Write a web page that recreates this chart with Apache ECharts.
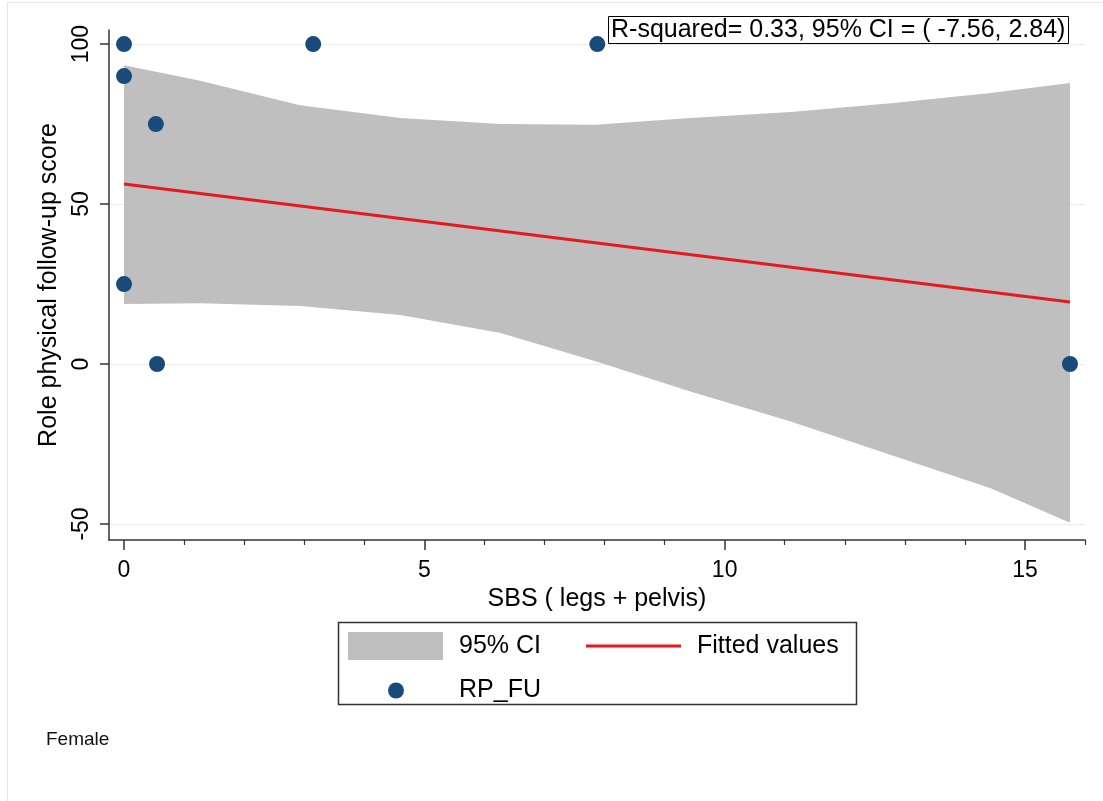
<!DOCTYPE html>
<html>
<head>
<meta charset="utf-8">
<script src="https://cdn.jsdelivr.net/npm/echarts@6/dist/echarts.min.js"></script>
<style>
  html, body { margin: 0; padding: 0; background: #fff; }
  #chart { width: 1103px; height: 801px; }
</style>
</head>
<body>
<div id="chart"></div>
<script>
// observed points (RP_FU vs SBS)
const pointX = [0, 0, 0.53, 0, 0.55, 3.15, 7.88, 15.75];
const pointY = [100, 90, 75, 25, 0, 100, 100, 0];

// fitted line end points
const fitX = [0, 15.75];
const fitY = [56.25, 19.4];

// 95% CI band
const bandX = [0, 1.27, 2.93, 4.6, 6.27, 7.85, 9.43, 11.1, 12.77, 14.43, 15.75];
const bandUpper = [93.4, 88.5, 80.9, 76.9, 75, 74.8, 76.9, 78.8, 81.5, 84.7, 87.8];
const bandLower = [18.75, 19, 18.1, 15.3, 9.7, 0.9, -8.6, -18, -28.4, -38.8, -49.6];

// ticks
const xMajorTicks = [0, 5, 10, 15];
const xMinorTicks = [1, 2, 3, 4, 6, 7, 8, 9, 11, 12, 13, 14, 16];
const yTicks = [-50, 0, 50, 100];

const FONT = 'Liberation Sans, Arial, Helvetica, sans-serif';
const chart = echarts.init(document.getElementById('chart'));

const option = {
  backgroundColor: '#fff',
  animation: false,
  textStyle: { fontFamily: FONT },
  title: {
    text: 'R-squared= 0.33, 95% CI = ( -7.56, 2.84)',
    left: 608,
    top: 16,
    padding: [2, 3, 1, 3],
    borderColor: '#000',
    borderWidth: 1,
    backgroundColor: '#fff',
    textStyle: { fontFamily: FONT, fontSize: 25, fontWeight: 'normal', color: '#000' }
  },
  grid: { left: 109, right: 18, top: 30, bottom: 261 },
  xAxis: [
    {
      type: 'value', min: -0.25, max: 16,
      position: 'bottom',
      name: 'SBS ( legs + pelvis)',
      nameLocation: 'middle',
      nameGap: 46,
      nameTextStyle: { fontFamily: FONT, fontSize: 25, color: '#000' },
      axisLine: { show: true, onZero: false, lineStyle: { color: '#333', width: 1.5 } },
      axisTick: { show: true, customValues: xMajorTicks, length: 10, lineStyle: { color: '#333', width: 1.5 } },
      axisLabel: { customValues: xMajorTicks, fontFamily: FONT, fontSize: 23, color: '#000', margin: 19 },
      splitLine: { show: false }
    },
    {
      type: 'value', min: -0.25, max: 16,
      position: 'bottom',
      axisLine: { show: false, onZero: false },
      axisTick: { show: true, customValues: xMinorTicks, length: 5, lineStyle: { color: '#333', width: 1.2 } },
      axisLabel: { show: false },
      splitLine: { show: false }
    }
  ],
  yAxis: {
    type: 'value', min: -55, max: 104.4,
    name: 'Role physical follow-up score',
    nameLocation: 'middle',
    nameGap: 42,
    nameTextStyle: { fontFamily: FONT, fontSize: 25, color: '#000' },
    axisLine: { show: true, onZero: false, lineStyle: { color: '#333', width: 1.5 } },
    axisTick: { show: true, customValues: yTicks, length: 9, lineStyle: { color: '#333', width: 1.5 } },
    axisLabel: { customValues: yTicks, rotate: 90, fontFamily: FONT, fontSize: 23, color: '#000', margin: 16 },
    splitLine: { show: true, lineStyle: { color: '#ebebeb', width: 1.2 } }
  },
  legend: [
    {
      left: 348, top: 632, padding: 0,
      itemWidth: 95, itemHeight: 28, itemGap: 45,
      textStyle: { fontFamily: FONT, fontSize: 25, color: '#000', padding: [0, 0, 0, 11] },
      data: [
        { name: '95% CI', icon: 'rect' },
        { name: 'Fitted values', icon: 'path://M0,0h95v3h-95z' }
      ],
      selectedMode: false
    },
    {
      left: 388, top: 678, padding: 0,
      itemWidth: 16, itemHeight: 16,
      textStyle: { fontFamily: FONT, fontSize: 25, color: '#000', padding: [0, 0, 0, 50] },
      data: [{ name: 'RP_FU', icon: 'circle' }],
      selectedMode: false
    }
  ],
  graphic: [
    {
      type: 'rect', silent: true, z: -1,
      shape: { x: 7.5, y: 2.5, width: 1200, height: 900 },
      style: { fill: 'none', stroke: '#e6e6e6', lineWidth: 1 }
    },
    {
      type: 'rect', silent: true,
      shape: { x: 338.5, y: 622.5, width: 518, height: 82 },
      style: { fill: 'none', stroke: '#333', lineWidth: 1.5 }
    },
    {
      type: 'text', left: 46, top: 730,
      style: { text: 'Female', fontFamily: FONT, fontSize: 19, fill: '#111' }
    }
  ],
  series: [
    {
      name: '95% CI',
      type: 'custom',
      xAxisIndex: 0,
      itemStyle: { color: '#bfbfbf' },
      data: [0],
      renderItem: function (params, api) {
        const pts = [];
        for (let i = 0; i < bandX.length; i++) pts.push(api.coord([bandX[i], bandUpper[i]]));
        for (let i = bandX.length - 1; i >= 0; i--) pts.push(api.coord([bandX[i], bandLower[i]]));
        return { type: 'polygon', shape: { points: pts }, style: { fill: '#bfbfbf' } };
      }
    },
    {
      name: 'Fitted values',
      type: 'line',
      xAxisIndex: 0,
      symbol: 'none',
      lineStyle: { color: '#e8191e', width: 3 },
      itemStyle: { color: '#e8191e' },
      data: fitX.map((x, i) => [x, fitY[i]])
    },
    {
      name: 'RP_FU',
      type: 'scatter',
      xAxisIndex: 0,
      symbolSize: 16,
      itemStyle: { color: '#1a4a7a', opacity: 1 },
      data: pointX.map((x, i) => [x, pointY[i]])
    }
  ]
};

chart.setOption(option);
</script>
</body>
</html>
